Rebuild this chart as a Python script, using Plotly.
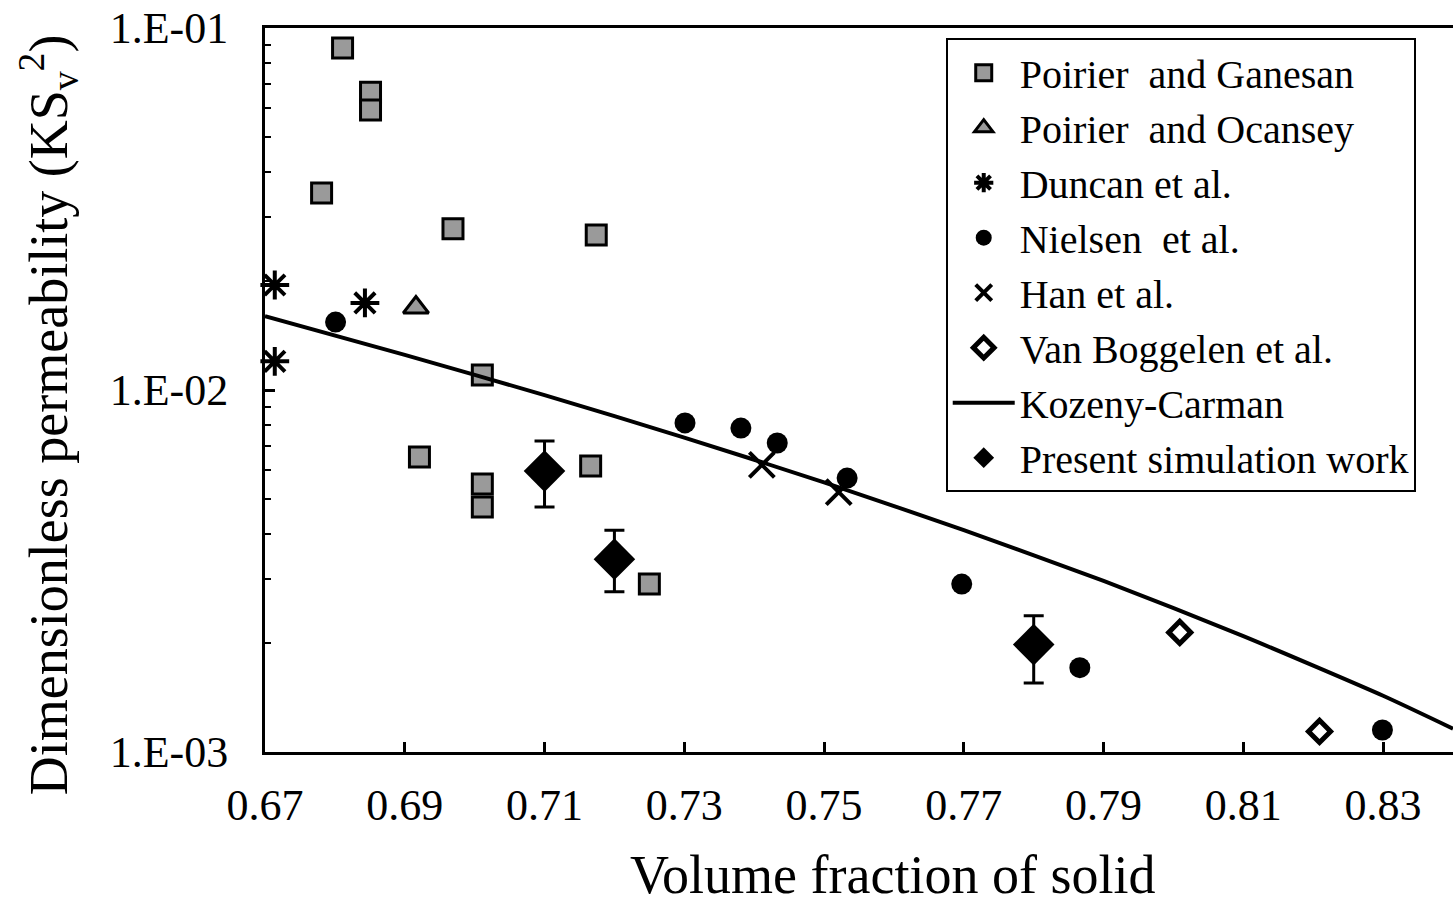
import plotly.graph_objects as go

# Poirier and Ganesan
pg_x = [0.6811, 0.6851, 0.6851, 0.6781, 0.6969, 0.7174, 0.7011, 0.6921, 0.7011, 0.7011, 0.7166, 0.7250]
pg_y = [0.0880, 0.0665, 0.0594, 0.0350, 0.0279, 0.0268, 0.0110, 0.00653, 0.00550, 0.00475, 0.00617, 0.00291]

# Poirier and Ocansey
po_x = [0.6916]
po_y = [0.0169]

# Duncan et al.
du_x = [0.6714, 0.6714, 0.6843]
du_y = [0.0195, 0.0120, 0.0174]

# Nielsen et al.
ni_x = [0.6801, 0.7301, 0.7381, 0.7433, 0.7533, 0.7697, 0.7866, 0.8299]
ni_y = [0.0154, 0.00811, 0.00785, 0.00714, 0.00571, 0.00291, 0.00171, 0.00115]

# Han et al.
han_x = [0.7411, 0.7521]
han_y = [0.00621, 0.00522]

# Van Boggelen et al.
vb_x = [0.8009, 0.8209]
vb_y = [0.00214, 0.00114]

# Kozeny-Carman curve
kc_x = [0.67, 0.69, 0.71, 0.73, 0.75, 0.77, 0.79, 0.81, 0.83, 0.84]
kc_y = [0.0160, 0.0125, 0.00968, 0.00739, 0.00556, 0.00410, 0.00297, 0.00209, 0.00143, 0.00116]

# Present simulation work, with error bars
ps_x = [0.71, 0.72, 0.78]
ps_y = [0.00597, 0.00341, 0.00198]
ps_err_hi = [0.00126, 0.00069, 0.00040]
ps_err_lo = [0.00122, 0.00064, 0.00043]

x_ticks = [0.67, 0.69, 0.71, 0.73, 0.75, 0.77, 0.79, 0.81, 0.83]
x_tick_text = ["0.67", "0.69", "0.71", "0.73", "0.75", "0.77", "0.79", "0.81", "0.83"]
y_ticks = [0.001, 0.01, 0.1]
y_tick_text = ["1.E-03", "1.E-02", "1.E-01"]
y_minor = [m * 10 ** e for e in (-3, -2) for m in range(2, 10)]

x_title = "Volume fraction of solid"
y_title = "Dimensionless permeability (KS<sub>v</sub><sup>2</sup>)"

FONT = "Liberation Serif"
INK = "black"

fig = go.Figure()

fig.add_trace(go.Scatter(
    x=pg_x, y=pg_y, mode="markers", name="Poirier\u00a0 and Ganesan",
    marker=dict(symbol="square", size=20, color="#9a9a9a", line=dict(color=INK, width=3)),
    cliponaxis=False))
fig.add_trace(go.Scatter(
    x=po_x, y=po_y, mode="markers", name="Poirier\u00a0 and Ocansey",
    marker=dict(symbol="triangle-up", size=22, color="#9a9a9a", line=dict(color=INK, width=3)),
    cliponaxis=False))
fig.add_trace(go.Scatter(
    x=du_x, y=du_y, mode="markers", name="Duncan et al.",
    marker=dict(symbol="asterisk-open", size=24, color=INK, line=dict(color=INK, width=4)),
    cliponaxis=False))
fig.add_trace(go.Scatter(
    x=ni_x, y=ni_y, mode="markers", name="Nielsen\u00a0 et al.",
    marker=dict(symbol="circle", size=21, color=INK),
    cliponaxis=False))
fig.add_trace(go.Scatter(
    x=han_x, y=han_y, mode="markers", name="Han et al.",
    marker=dict(symbol="x-thin-open", size=25, color=INK, line=dict(color=INK, width=4)),
    cliponaxis=False))
fig.add_trace(go.Scatter(
    x=vb_x, y=vb_y, mode="markers", name="Van Boggelen et al.",
    marker=dict(symbol="diamond", size=17, color="white", line=dict(color=INK, width=5)),
    cliponaxis=False))
fig.add_trace(go.Scatter(
    x=kc_x, y=kc_y, mode="lines", name="Kozeny-Carman",
    line=dict(color=INK, width=4, shape="spline", smoothing=0.6)))
fig.add_trace(go.Scatter(
    x=ps_x, y=ps_y, mode="markers", name="Present simulation work",
    marker=dict(symbol="diamond", size=32, color=INK),
    error_y=dict(type="data", symmetric=False, array=ps_err_hi, arrayminus=ps_err_lo,
                 color=INK, thickness=3, width=10),
    cliponaxis=False))

fig.update_layout(
    width=1453, height=911,
    margin=dict(l=265, r=0, t=28, b=159),
    paper_bgcolor="white", plot_bgcolor="white",
    font=dict(family=FONT, color=INK, size=44),
    showlegend=True,
    legend=dict(
        x=0.573, y=0.986, xanchor="left", yanchor="top",
        bgcolor="white", bordercolor=INK, borderwidth=2,
        font=dict(family=FONT, size=40, color=INK),
        itemwidth=62, tracegroupgap=0,
    ),
    xaxis=dict(
        range=[0.67, 0.84], tickmode="array", tickvals=x_ticks, ticktext=x_tick_text,
        ticks="inside", ticklen=10, tickwidth=3, tickcolor=INK,
        showline=True, linecolor=INK, linewidth=3, mirror=True,
        showgrid=False, zeroline=False,
        tickfont=dict(family=FONT, size=44, color=INK), ticklabelstandoff=12,
        automargin=False,
    ),
    yaxis=dict(
        type="log", range=[-3, -1], tickmode="array", tickvals=y_ticks, ticktext=y_tick_text,
        ticks="inside", ticklen=10, tickwidth=3, tickcolor=INK,
        minor=dict(tickmode="array", tickvals=y_minor, ticks="inside", ticklen=6, tickwidth=2, tickcolor=INK),
        showline=True, linecolor=INK, linewidth=3, mirror=False,
        showgrid=False, zeroline=False,
        tickfont=dict(family=FONT, size=44, color=INK), ticklabelstandoff=25,
        automargin=False,
    ),
    annotations=[
        dict(text=x_title, xref="paper", yref="paper", x=0.528, y=-0.170,
             xanchor="center", yanchor="middle", showarrow=False,
             font=dict(family=FONT, size=54, color=INK)),
        dict(text=y_title, xref="paper", yref="paper", x=-0.183, y=0.466,
             xanchor="center", yanchor="middle", textangle=-90, showarrow=False,
             font=dict(family=FONT, size=54, color=INK)),
    ],
)

fig.write_html("out.html")
